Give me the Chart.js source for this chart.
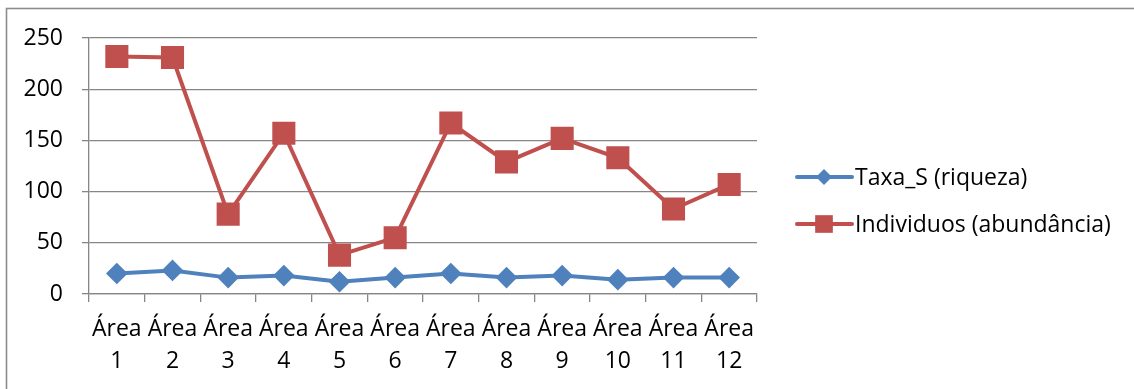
<!DOCTYPE html>
<html>
<head>
<meta charset="utf-8">
<script src="https://cdn.jsdelivr.net/npm/chart.js@4/dist/chart.umd.min.js"></script>
<style>
  html, body { margin: 0; padding: 0; background: #fff; }
  #wrap { position: relative; width: 1134px; height: 389px; }
</style>
</head>
<body>
<div id="wrap"><canvas id="chart" width="1134" height="389"></canvas></div>
<script>
(function() {
  'use strict';

  // categories and series
  var areas = ['Área 1', 'Área 2', 'Área 3', 'Área 4', 'Área 5', 'Área 6',
               'Área 7', 'Área 8', 'Área 9', 'Área 10', 'Área 11', 'Área 12'];
  var riqueza = [20, 23, 16, 18, 12, 16, 20, 16, 18, 14, 16, 16];
  var abundancia = [232, 231, 78, 157, 38, 55, 167, 129, 152, 133, 83, 107];
  var yTicks = [0, 50, 100, 150, 200, 250];

  var BLUE = '#4f81bd';
  var RED = '#c0504d';
  var GRID = '#868686';
  var FONT = "'Open Sans', sans-serif";
  var FONT_SIZE = 23;

  /** Outer frame of the chart object */
  var framePlugin = {
    id: 'frame',
    beforeDraw: function(chart) {
      var ctx = chart.ctx;
      ctx.save();
      ctx.fillStyle = '#fff';
      ctx.fillRect(0, 0, chart.width, chart.height);
      ctx.strokeStyle = '#8c8c8c';
      ctx.lineWidth = 1.6;
      ctx.strokeRect(6.5, 8.5, chart.width + 20, chart.height + 20);
      ctx.restore();
    }
  };

  /** Legend drawn as line + marker, to the right of the plot */
  var lineLegend = {
    id: 'lineLegend',
    afterDraw: function(chart) {
      var ctx = chart.ctx;
      var x0 = chart.chartArea.right + 40;
      var rows = [177, 224];
      ctx.save();
      chart.data.datasets.forEach(function(ds, i) {
        var y = rows[i];
        ctx.strokeStyle = ds.borderColor;
        ctx.lineWidth = 4;
        ctx.lineCap = 'round';
        ctx.beginPath();
        ctx.moveTo(x0, y);
        ctx.lineTo(x0 + 55, y);
        ctx.stroke();
        ctx.fillStyle = ds.pointBackgroundColor;
        ctx.strokeStyle = ds.pointBackgroundColor;
        Chart.helpers.drawPoint(ctx, {
          pointStyle: ds.pointStyle,
          radius: ds.legendRadius,
          borderWidth: 0
        }, x0 + 27, y);
        ctx.fillStyle = '#000';
        ctx.font = FONT_SIZE + 'px ' + FONT;
        ctx.textBaseline = 'middle';
        ctx.textAlign = 'left';
        ctx.fillText(ds.label, x0 + 58, y + 1);
      });
      ctx.restore();
    }
  };

  new Chart(document.getElementById('chart'), {
    type: 'line',
    plugins: [framePlugin, lineLegend],
    data: {
      labels: areas,
      datasets: [{
        label: 'Taxa_S (riqueza)',
        data: riqueza,
        borderColor: BLUE,
        backgroundColor: BLUE,
        pointBackgroundColor: BLUE,
        pointBorderColor: BLUE,
        pointStyle: 'rectRot',
        pointRadius: 8,
        legendRadius: 8,
        borderWidth: 4,
        tension: 0
      }, {
        label: 'Individuos (abundância)',
        data: abundancia,
        borderColor: RED,
        backgroundColor: RED,
        pointBackgroundColor: RED,
        pointBorderColor: RED,
        pointStyle: 'rect',
        pointRadius: 13.5,
        legendRadius: 12.5,
        borderWidth: 4,
        tension: 0
      }]
    },
    options: {
      responsive: false,
      animation: false,
      layout: { padding: { left: 0, top: 38, right: 377, bottom: 0 } },
      plugins: {
        legend: { display: false },
        tooltip: { enabled: false }
      },
      scales: {
        x: {
          offset: true,
          grid: {
            offset: true,
            drawOnChartArea: false,
            drawTicks: true,
            tickLength: 8,
            color: GRID,
            lineWidth: 1.3
          },
          border: { display: true, color: GRID, width: 1.3 },
          ticks: {
            color: '#000',
            font: { family: FONT, size: FONT_SIZE, lineHeight: 1.4 },
            padding: 11,
            maxRotation: 0,
            autoSkip: false,
            callback: function(v, i) { return areas[i].split(' '); }
          },
          afterFit: function(scale) { scale.height = 95; }
        },
        y: {
          min: 0,
          max: 250,
          afterBuildTicks: function(scale) {
            scale.ticks = yTicks.map(function(v) { return { value: v }; });
          },
          grid: {
            color: GRID,
            lineWidth: 1.3,
            tickLength: 7
          },
          border: { display: true, color: GRID, width: 1.3 },
          ticks: {
            color: '#000',
            font: { family: FONT, size: FONT_SIZE },
            padding: 19
          },
          afterFit: function(scale) { scale.width = 89; }
        }
      }
    }
  });
})();
</script>
</body>
</html>
